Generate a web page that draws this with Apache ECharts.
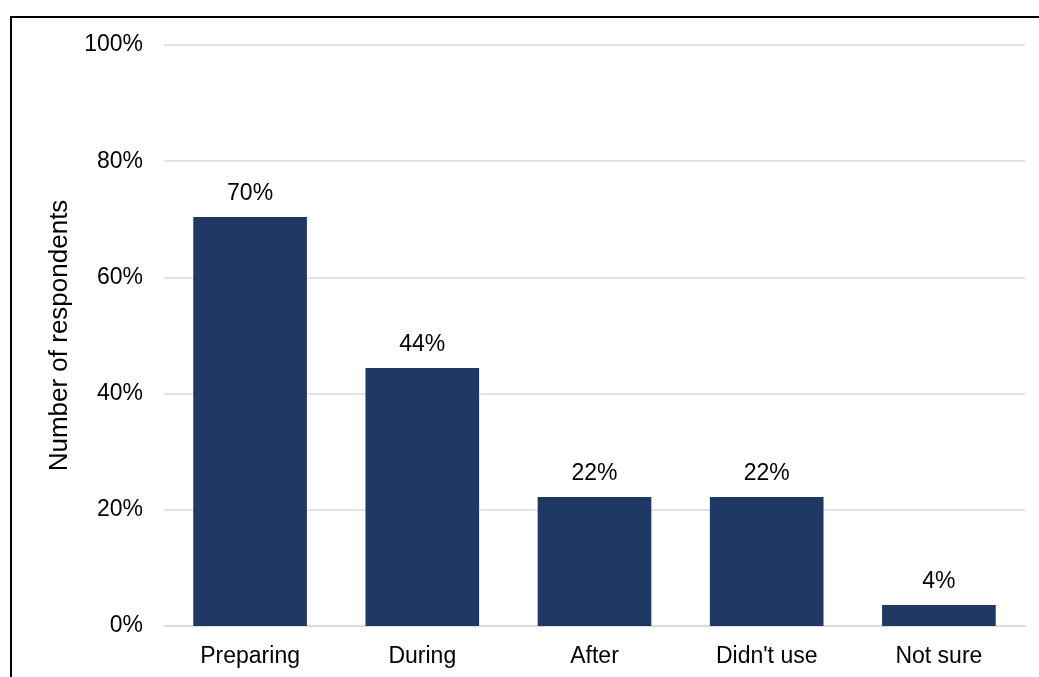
<!DOCTYPE html>
<html>
<head>
<meta charset="utf-8">
<script src="https://cdn.jsdelivr.net/npm/echarts@6/dist/echarts.min.js"></script>
<style>
	html, body { margin: 0; padding: 0; background: #fff; overflow: hidden; }
	#frame {
		position: absolute; left: 10px; top: 16px; width: 1200px; height: 800px;
		border-left: 2px solid #000; border-top: 2px solid #000;
	}
	#chart { position: absolute; left: 0; top: 0; width: 1039px; height: 677px; }
</style>
</head>
<body>
<div id="frame"></div>
<div id="chart"></div>
<script>
var categories = ['Preparing', 'During', 'After', "Didn't use", 'Not sure'];
var shares = [70.4, 44.4, 22.2, 22.2, 3.6];
var yTicks = [0, 20, 40, 60, 80, 100];

function chartMain() {
	let myChart = echarts.init(document.getElementById('chart'));
	let font = 'Liberation Sans, Arial, sans-serif';

	let option = {
		animation: false,
		textStyle: { fontFamily: font },
		grid: {
			left: 164,
			right: 14,
			top: 45,
			bottom: 51
		},
		xAxis: {
			type: 'category',
			data: categories,
			axisLine: { show: true, lineStyle: { color: '#d9d9d9', width: 1.5 } },
			axisTick: { show: false },
			axisLabel: { color: '#000', fontSize: 23, margin: 19, fontFamily: font }
		},
		yAxis: {
			type: 'value',
			min: yTicks[0],
			max: yTicks[yTicks.length - 1],
			interval: 20,
			name: 'Number of respondents',
			nameLocation: 'middle',
			nameGap: 91,
			nameTextStyle: { color: '#000', fontSize: 26, fontFamily: font },
			axisLine: { show: false },
			axisTick: { show: false },
			axisLabel: {
				color: '#000',
				fontSize: 23,
				margin: 21,
				fontFamily: font,
				verticalAlign: 'middle',
				padding: [3, 0, 0, 0],
				formatter: function(v) { return v + '%'; }
			},
			splitLine: { lineStyle: { color: '#d9d9d9', width: 1.5 } }
		},
		series: [{
			type: 'bar',
			data: shares,
			barCategoryGap: '34%',
			itemStyle: { color: '#203864' },
			label: {
				show: true,
				position: 'top',
				distance: 12,
				color: '#000',
				fontSize: 23,
				fontFamily: font,
				formatter: function(p) { return Math.round(p.value) + '%'; }
			}
		}]
	};

	myChart.setOption(option);
	window.addEventListener('resize', function() {
		myChart.resize();
	})
}

chartMain();
</script>
</body>
</html>
